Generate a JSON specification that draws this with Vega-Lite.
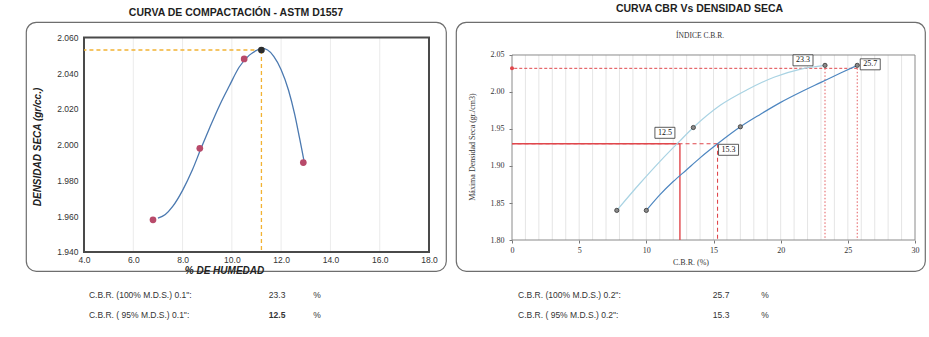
{
  "$schema": "https://vega.github.io/schema/vega-lite/v6.json",
  "background": "white",
  "padding": {"left": 25, "top": 2, "right": 0, "bottom": 0},
  "spacing": 4,
  "config": {
    "view": {"stroke": "#6e6e6e", "strokeWidth": 1.2, "cornerRadius": 10},
    "title": {"font": "Liberation Sans", "fontSize": 10.5, "fontWeight": "bold", "color": "#1e1e1e", "baseline": "alphabetic"}
  },
  "datasets": {
    "compactacion": [
      {"humedad": 6.8, "densidad": 1.958},
      {"humedad": 8.7, "densidad": 1.998},
      {"humedad": 10.5, "densidad": 2.048},
      {"humedad": 12.9, "densidad": 1.990}
    ],
    "optimo": [{"humedad": 11.2, "densidad": 2.053}],
    "curvaCompactacion": [
      {"humedad": 7.0, "densidad": 1.959},
      {"humedad": 7.3, "densidad": 1.961},
      {"humedad": 7.6, "densidad": 1.9655},
      {"humedad": 8.0, "densidad": 1.9745},
      {"humedad": 8.4, "densidad": 1.986},
      {"humedad": 8.75, "densidad": 1.998},
      {"humedad": 9.1, "densidad": 2.0095},
      {"humedad": 9.5, "densidad": 2.022},
      {"humedad": 9.9, "densidad": 2.033},
      {"humedad": 10.3, "densidad": 2.0435},
      {"humedad": 10.7, "densidad": 2.05},
      {"humedad": 11.0, "densidad": 2.0528},
      {"humedad": 11.2, "densidad": 2.054},
      {"humedad": 11.45, "densidad": 2.053},
      {"humedad": 11.7, "densidad": 2.0495},
      {"humedad": 12.0, "densidad": 2.042},
      {"humedad": 12.3, "densidad": 2.0305},
      {"humedad": 12.55, "densidad": 2.017},
      {"humedad": 12.75, "densidad": 2.0035},
      {"humedad": 12.9, "densidad": 1.993},
      {"humedad": 12.95, "densidad": 1.9895}
    ],
    "gridHumedad": [{"h": 6}, {"h": 8}, {"h": 10}, {"h": 12}, {"h": 14}, {"h": 16}],
    "gridCbr": [
      {"c": 1}, {"c": 2}, {"c": 3}, {"c": 4}, {"c": 5}, {"c": 6}, {"c": 7}, {"c": 8}, {"c": 9}, {"c": 10},
      {"c": 11}, {"c": 12}, {"c": 13}, {"c": 14}, {"c": 15}, {"c": 16}, {"c": 17}, {"c": 18}, {"c": 19}, {"c": 20},
      {"c": 21}, {"c": 22}, {"c": 23}, {"c": 24}, {"c": 25}, {"c": 26}, {"c": 27}, {"c": 28}, {"c": 29}
    ],
    "cbrPuntos": [
      {"pen": "0.1", "cbr": 7.8, "dens": 1.840},
      {"pen": "0.1", "cbr": 13.5, "dens": 1.952},
      {"pen": "0.1", "cbr": 23.3, "dens": 2.036},
      {"pen": "0.2", "cbr": 10.0, "dens": 1.840},
      {"pen": "0.2", "cbr": 17.0, "dens": 1.953},
      {"pen": "0.2", "cbr": 25.7, "dens": 2.036}
    ],
    "cbrCurvas": [
      {"pen": "0.1", "cbr": 7.8, "dens": 1.840},
      {"pen": "0.1", "cbr": 9.5, "dens": 1.876},
      {"pen": "0.1", "cbr": 11.0, "dens": 1.906},
      {"pen": "0.1", "cbr": 12.5, "dens": 1.934},
      {"pen": "0.1", "cbr": 13.5, "dens": 1.952},
      {"pen": "0.1", "cbr": 15.5, "dens": 1.982},
      {"pen": "0.1", "cbr": 17.5, "dens": 2.003},
      {"pen": "0.1", "cbr": 19.5, "dens": 2.020},
      {"pen": "0.1", "cbr": 21.5, "dens": 2.031},
      {"pen": "0.1", "cbr": 23.3, "dens": 2.036},
      {"pen": "0.2", "cbr": 10.0, "dens": 1.840},
      {"pen": "0.2", "cbr": 11.0, "dens": 1.861},
      {"pen": "0.2", "cbr": 12.0, "dens": 1.879},
      {"pen": "0.2", "cbr": 13.0, "dens": 1.895},
      {"pen": "0.2", "cbr": 14.0, "dens": 1.911},
      {"pen": "0.2", "cbr": 15.3, "dens": 1.930},
      {"pen": "0.2", "cbr": 17.0, "dens": 1.953},
      {"pen": "0.2", "cbr": 18.5, "dens": 1.970},
      {"pen": "0.2", "cbr": 20.0, "dens": 1.986},
      {"pen": "0.2", "cbr": 21.5, "dens": 2.000},
      {"pen": "0.2", "cbr": 23.0, "dens": 2.013},
      {"pen": "0.2", "cbr": 24.5, "dens": 2.026},
      {"pen": "0.2", "cbr": 25.7, "dens": 2.036}
    ],
    "cbrResultados": [
      {"pen": "0.1", "nivel": 100, "cbr": 23.3, "dens": 2.032, "etiqueta": "C.B.R. (100% M.D.S.) 0.1\":"},
      {"pen": "0.1", "nivel": 95, "cbr": 12.5, "dens": 1.930, "etiqueta": "C.B.R. ( 95% M.D.S.) 0.1\":"},
      {"pen": "0.2", "nivel": 100, "cbr": 25.7, "dens": 2.032, "etiqueta": "C.B.R. (100% M.D.S.) 0.2\":"},
      {"pen": "0.2", "nivel": 95, "cbr": 15.3, "dens": 1.930, "etiqueta": "C.B.R. ( 95% M.D.S.) 0.2\":"}
    ]
  },
  "vconcat": [
    {
      "spacing": 8,
      "hconcat": [
        {
          "title": {"text": "CURVA DE COMPACTACIÓN - ASTM D1557", "offset": 3.5},
          "width": 420,
          "height": 249,
          "layer": [
            {
              "data": {"name": "gridHumedad"},
              "mark": {"type": "rule", "color": "#e6e6e6", "strokeWidth": 0.8},
              "encoding": {
                "x": {
                  "field": "h", "type": "quantitative",
                  "scale": {"domain": [1.6464, 18.69], "nice": false, "zero": false},
                  "axis": {
                    "orient": "bottom", "offset": -19, "values": [4, 6, 8, 10, 12, 14, 16, 18], "format": ".1f",
                    "domain": false, "ticks": false, "grid": false, "labelPadding": 3,
                    "labelFont": "Liberation Sans", "labelFontSize": 8.5, "labelColor": "#333",
                    "title": "% DE HUMEDAD", "titleFont": "Liberation Sans", "titleFontSize": 10,
                    "titleFontWeight": "bold", "titleFontStyle": "italic", "titleColor": "#222",
                    "titleX": 198, "titleY": 13
                  }
                },
                "y": {
                  "datum": 1.94, "type": "quantitative",
                  "scale": {"domain": [1.92937, 2.06867], "nice": false, "zero": false},
                  "axis": {
                    "orient": "left", "offset": -58, "values": [1.94, 1.96, 1.98, 2.0, 2.02, 2.04, 2.06], "format": ".3f",
                    "domain": false, "ticks": false, "grid": false, "labelPadding": 6,
                    "labelFont": "Liberation Sans", "labelFontSize": 8.5, "labelColor": "#333",
                    "title": "DENSIDAD SECA (gr/cc.)", "titleFont": "Liberation Sans", "titleFontSize": 10,
                    "titleFontWeight": "bold", "titleFontStyle": "italic", "titleColor": "#222", "titlePadding": 14
                  }
                },
                "y2": {"datum": 2.06}
              }
            },
            {
              "data": {"values": [{}]},
              "mark": {"type": "rect", "fill": "transparent", "stroke": "#4a4a4a", "strokeWidth": 2},
              "encoding": {
                "x": {"datum": 4, "type": "quantitative"}, "x2": {"datum": 18},
                "y": {"datum": 1.94, "type": "quantitative"}, "y2": {"datum": 2.06}
              }
            },
            {
              "data": {"name": "optimo"},
              "mark": {"type": "rule", "color": "#f2b233", "strokeWidth": 1.3, "strokeDash": [4, 3]},
              "encoding": {
                "x": {"field": "humedad", "type": "quantitative"}, "x2": {"datum": 4},
                "y": {"field": "densidad", "type": "quantitative"}
              }
            },
            {
              "data": {"name": "optimo"},
              "mark": {"type": "rule", "color": "#f2b233", "strokeWidth": 1.3, "strokeDash": [4, 3]},
              "encoding": {
                "x": {"field": "humedad", "type": "quantitative"},
                "y": {"field": "densidad", "type": "quantitative"}, "y2": {"datum": 1.94}
              }
            },
            {
              "data": {"name": "curvaCompactacion"},
              "mark": {"type": "line", "interpolate": "monotone", "color": "#4b79b0", "strokeWidth": 1.3},
              "encoding": {
                "x": {"field": "humedad", "type": "quantitative"},
                "y": {"field": "densidad", "type": "quantitative"}
              }
            },
            {
              "data": {"name": "compactacion"},
              "mark": {"type": "point", "filled": true, "color": "#b84a6a", "size": 45, "opacity": 1},
              "encoding": {
                "x": {"field": "humedad", "type": "quantitative"},
                "y": {"field": "densidad", "type": "quantitative"}
              }
            },
            {
              "data": {"name": "optimo"},
              "mark": {"type": "point", "filled": true, "color": "#2b2b2b", "size": 45, "opacity": 1},
              "encoding": {
                "x": {"field": "humedad", "type": "quantitative"},
                "y": {"field": "densidad", "type": "quantitative"}
              }
            }
          ]
        },
        {
          "title": {"text": "CURVA CBR Vs DENSIDAD SECA", "offset": 8, "dx": 9},
          "width": 469,
          "height": 249,
          "layer": [
            {
              "data": {"name": "gridCbr"},
              "mark": {"type": "rule", "color": "#dedede", "strokeWidth": 0.8},
              "encoding": {
                "x": {
                  "field": "c", "type": "quantitative",
                  "scale": {"domain": [-4.169, 30.744], "nice": false, "zero": false},
                  "axis": {
                    "orient": "bottom", "offset": -31, "values": [0, 5, 10, 15, 20, 25, 30], "format": "d",
                    "domain": false, "ticks": true, "tickSize": 3, "tickColor": "#777", "grid": false, "labelPadding": 3,
                    "labelFont": "Liberation Serif", "labelFontSize": 8, "labelColor": "#333",
                    "title": "C.B.R. (%)", "titleFont": "Liberation Serif", "titleFontSize": 8,
                    "titleFontWeight": "normal", "titleColor": "#333", "titlePadding": 4
                  }
                },
                "y": {
                  "datum": 1.80, "type": "quantitative",
                  "scale": {"domain": [1.75811, 2.09459], "nice": false, "zero": false},
                  "axis": {
                    "orient": "left", "offset": -56, "values": [1.80, 1.85, 1.90, 1.95, 2.00, 2.05], "format": ".2f",
                    "domain": false, "ticks": true, "tickSize": 3, "tickColor": "#777", "grid": false, "labelPadding": 5,
                    "labelFont": "Liberation Serif", "labelFontSize": 8, "labelColor": "#333",
                    "title": "Máxima Densidad Seca (gr./cm3)", "titleFont": "Liberation Serif", "titleFontSize": 8,
                    "titleFontWeight": "normal", "titleColor": "#333", "titlePadding": 14
                  }
                },
                "y2": {"datum": 2.05}
              }
            },
            {
              "data": {"values": [{}]},
              "mark": {"type": "rect", "fill": "transparent", "stroke": "#8a8a8a", "strokeWidth": 1},
              "encoding": {
                "x": {"datum": 0, "type": "quantitative"}, "x2": {"datum": 30},
                "y": {"datum": 1.80, "type": "quantitative"}, "y2": {"datum": 2.05}
              }
            },
            {
              "data": {"name": "cbrResultados"},
              "transform": [{"filter": "datum.nivel === 100"}],
              "mark": {"type": "rule", "color": "#e0474c", "strokeWidth": 0.9, "strokeDash": [1.5, 2]},
              "encoding": {
                "x": {"field": "cbr", "type": "quantitative"},
                "y": {"field": "dens", "type": "quantitative"}, "y2": {"datum": 1.80}
              }
            },
            {
              "data": {"name": "cbrResultados"},
              "transform": [{"filter": "datum.nivel === 100 && datum.pen === '0.2'"}],
              "mark": {"type": "rule", "color": "#e0474c", "strokeWidth": 1, "strokeDash": [3, 2]},
              "encoding": {
                "x": {"field": "cbr", "type": "quantitative"}, "x2": {"datum": 0},
                "y": {"field": "dens", "type": "quantitative"}
              }
            },
            {
              "data": {"name": "cbrResultados"},
              "transform": [{"filter": "datum.nivel === 95 && datum.pen === '0.2'"}],
              "mark": {"type": "rule", "color": "#e0474c", "strokeWidth": 1.1, "strokeDash": [4, 3]},
              "encoding": {
                "x": {"field": "cbr", "type": "quantitative"}, "x2": {"datum": 0},
                "y": {"field": "dens", "type": "quantitative"}
              }
            },
            {
              "data": {"name": "cbrResultados"},
              "transform": [{"filter": "datum.nivel === 95 && datum.pen === '0.2'"}],
              "mark": {"type": "rule", "color": "#e0474c", "strokeWidth": 1.1, "strokeDash": [4, 3]},
              "encoding": {
                "x": {"field": "cbr", "type": "quantitative"},
                "y": {"field": "dens", "type": "quantitative"}, "y2": {"datum": 1.80}
              }
            },
            {
              "data": {"name": "cbrResultados"},
              "transform": [{"filter": "datum.nivel === 95 && datum.pen === '0.1'"}],
              "mark": {"type": "rule", "color": "#e0474c", "strokeWidth": 1.4},
              "encoding": {
                "x": {"field": "cbr", "type": "quantitative"}, "x2": {"datum": 0},
                "y": {"field": "dens", "type": "quantitative"}
              }
            },
            {
              "data": {"name": "cbrResultados"},
              "transform": [{"filter": "datum.nivel === 95 && datum.pen === '0.1'"}],
              "mark": {"type": "rule", "color": "#e0474c", "strokeWidth": 1.4},
              "encoding": {
                "x": {"field": "cbr", "type": "quantitative"},
                "y": {"field": "dens", "type": "quantitative"}, "y2": {"datum": 1.80}
              }
            },
            {
              "data": {"name": "cbrResultados"},
              "transform": [{"filter": "datum.nivel === 100 && datum.pen === '0.2'"}],
              "mark": {"type": "point", "filled": true, "color": "#e0474c", "size": 16, "opacity": 1},
              "encoding": {
                "x": {"datum": 0, "type": "quantitative"},
                "y": {"field": "dens", "type": "quantitative"}
              }
            },
            {
              "data": {"name": "cbrCurvas"},
              "mark": {"type": "line", "interpolate": "monotone", "strokeWidth": 1.2},
              "encoding": {
                "x": {"field": "cbr", "type": "quantitative"},
                "y": {"field": "dens", "type": "quantitative"},
                "color": {
                  "field": "pen", "type": "nominal", "legend": null,
                  "scale": {"domain": ["0.1", "0.2"], "range": ["#a9d3e3", "#4d86c0"]}
                }
              }
            },
            {
              "data": {"name": "cbrPuntos"},
              "mark": {"type": "point", "filled": true, "fill": "#8a8a8a", "stroke": "#333", "strokeWidth": 0.8, "size": 18, "opacity": 1},
              "encoding": {
                "x": {"field": "cbr", "type": "quantitative"},
                "y": {"field": "dens", "type": "quantitative"}
              }
            },
            {
              "data": {"name": "cbrResultados"},
              "transform": [{"filter": "datum.nivel === 100 && datum.pen === '0.1'"}],
              "layer": [
                {"mark": {"type": "point", "shape": "M-1,-0.55H1V0.55H-1Z", "size": 400, "filled": true, "fill": "white", "stroke": "#333", "strokeWidth": 0.8, "opacity": 1, "xOffset": -22, "yOffset": -8}},
                {"mark": {"type": "text", "font": "Liberation Serif", "fontSize": 8, "color": "#111", "xOffset": -22, "yOffset": -8}, "encoding": {"text": {"field": "cbr", "format": ".1f"}}}
              ],
              "encoding": {
                "x": {"field": "cbr", "type": "quantitative"},
                "y": {"field": "dens", "type": "quantitative"}
              }
            },
            {
              "data": {"name": "cbrResultados"},
              "transform": [{"filter": "datum.nivel === 100 && datum.pen === '0.2'"}],
              "layer": [
                {"mark": {"type": "point", "shape": "M-1,-0.55H1V0.55H-1Z", "size": 400, "filled": true, "fill": "white", "stroke": "#333", "strokeWidth": 0.8, "opacity": 1, "xOffset": 13, "yOffset": -4}},
                {"mark": {"type": "text", "font": "Liberation Serif", "fontSize": 8, "color": "#111", "xOffset": 13, "yOffset": -4}, "encoding": {"text": {"field": "cbr", "format": ".1f"}}}
              ],
              "encoding": {
                "x": {"field": "cbr", "type": "quantitative"},
                "y": {"field": "dens", "type": "quantitative"}
              }
            },
            {
              "data": {"name": "cbrResultados"},
              "transform": [{"filter": "datum.nivel === 95 && datum.pen === '0.1'"}],
              "layer": [
                {"mark": {"type": "point", "shape": "M-1,-0.55H1V0.55H-1Z", "size": 400, "filled": true, "fill": "white", "stroke": "#333", "strokeWidth": 0.8, "opacity": 1, "xOffset": -15, "yOffset": -11}},
                {"mark": {"type": "text", "font": "Liberation Serif", "fontSize": 8, "color": "#111", "xOffset": -15, "yOffset": -11}, "encoding": {"text": {"field": "cbr", "format": ".1f"}}}
              ],
              "encoding": {
                "x": {"field": "cbr", "type": "quantitative"},
                "y": {"field": "dens", "type": "quantitative"}
              }
            },
            {
              "data": {"name": "cbrResultados"},
              "transform": [{"filter": "datum.nivel === 95 && datum.pen === '0.2'"}],
              "layer": [
                {"mark": {"type": "point", "shape": "M-1,-0.55H1V0.55H-1Z", "size": 400, "filled": true, "fill": "white", "stroke": "#333", "strokeWidth": 0.8, "opacity": 1, "xOffset": 11, "yOffset": 6}},
                {"mark": {"type": "text", "font": "Liberation Serif", "fontSize": 8, "color": "#111", "xOffset": 11, "yOffset": 6}, "encoding": {"text": {"field": "cbr", "format": ".1f"}}}
              ],
              "encoding": {
                "x": {"field": "cbr", "type": "quantitative"},
                "y": {"field": "dens", "type": "quantitative"}
              }
            },
            {
              "data": {"values": [{"subtitulo": "ÍNDICE C.B.R."}]},
              "mark": {"type": "text", "font": "Liberation Serif", "fontSize": 7.5, "color": "#333"},
              "encoding": {
                "x": {"datum": 14, "type": "quantitative"},
                "y": {"datum": 2.0757, "type": "quantitative"},
                "text": {"field": "subtitulo"}
              }
            }
          ]
        }
      ]
    },
    {
      "spacing": 8,
      "hconcat": [
        {
          "width": 420,
          "height": 50,
          "view": {"stroke": null},
          "data": {"name": "cbrResultados"},
          "transform": [{"filter": "datum.pen === '0.1'"}],
          "encoding": {
            "y": {"field": "nivel", "type": "ordinal", "sort": "descending", "scale": {"type": "point", "padding": 0.75}, "axis": null}
          },
          "layer": [
            {
              "mark": {"type": "text", "align": "left", "font": "Liberation Sans", "fontSize": 8.5, "color": "#333"},
              "encoding": {
                "x": {"datum": 4.2, "type": "quantitative", "scale": {"domain": [1.6464, 18.69], "nice": false, "zero": false}, "axis": null},
                "text": {"field": "etiqueta"}
              }
            },
            {
              "transform": [{"filter": "datum.nivel === 100"}],
              "mark": {"type": "text", "align": "left", "font": "Liberation Sans", "fontSize": 8.5, "color": "#333"},
              "encoding": {
                "x": {"datum": 11.5, "type": "quantitative"},
                "text": {"field": "cbr", "format": ".1f"}
              }
            },
            {
              "transform": [{"filter": "datum.nivel === 95"}],
              "mark": {"type": "text", "align": "left", "font": "Liberation Sans", "fontSize": 8.5, "fontWeight": "bold", "color": "#333"},
              "encoding": {
                "x": {"datum": 11.5, "type": "quantitative"},
                "text": {"field": "cbr", "format": ".1f"}
              }
            },
            {
              "mark": {"type": "text", "align": "left", "font": "Liberation Sans", "fontSize": 8.5, "color": "#333", "text": "%"},
              "encoding": {
                "x": {"datum": 13.3, "type": "quantitative"}
              }
            }
          ]
        },
        {
          "width": 469,
          "height": 50,
          "view": {"stroke": null},
          "data": {"name": "cbrResultados"},
          "transform": [{"filter": "datum.pen === '0.2'"}],
          "encoding": {
            "y": {"field": "nivel", "type": "ordinal", "sort": "descending", "scale": {"type": "point", "padding": 0.75}, "axis": null}
          },
          "layer": [
            {
              "mark": {"type": "text", "align": "left", "font": "Liberation Sans", "fontSize": 8.5, "color": "#333"},
              "encoding": {
                "x": {"datum": 0.6, "type": "quantitative", "scale": {"domain": [-4.169, 30.744], "nice": false, "zero": false}, "axis": null},
                "text": {"field": "etiqueta"}
              }
            },
            {
              "mark": {"type": "text", "align": "left", "font": "Liberation Sans", "fontSize": 8.5, "color": "#333"},
              "encoding": {
                "x": {"datum": 15.1, "type": "quantitative"},
                "text": {"field": "cbr", "format": ".1f"}
              }
            },
            {
              "mark": {"type": "text", "align": "left", "font": "Liberation Sans", "fontSize": 8.5, "color": "#333", "text": "%"},
              "encoding": {
                "x": {"datum": 18.7, "type": "quantitative"}
              }
            }
          ]
        }
      ]
    }
  ]
}
